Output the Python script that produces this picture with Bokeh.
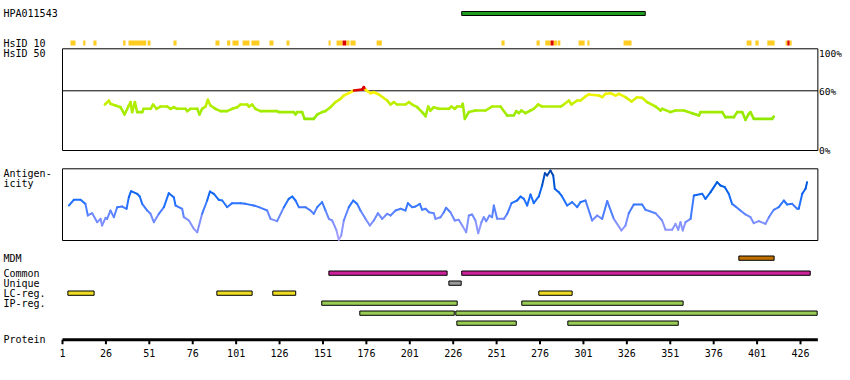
from bokeh.plotting import figure
from bokeh.models import Range1d, Label
from bokeh.embed import file_html
from bokeh.resources import INLINE

# ---------------- data ----------------
protein_length = 436
protein_ticks = [1, 26, 51, 76, 101, 126, 151, 176, 201, 226, 251, 276, 301, 326, 351, 376, 401, 426]
antibody_name = "HPA011543"
antigen_start = [230.9]
antigen_end = [336.6]

hsid10_start = [5.6, 12.9, 18.8, 35.9, 39.0, 50.0, 64.9, 89.1, 95.8, 98.9, 104.7, 109.8, 120.2, 130.0,
                154.2, 158.8, 162.3, 164.5, 166.9, 181.9, 253.8, 274.0, 279.0, 282.1, 283.9, 286.1,
                298.2, 303.3, 324.1, 395.0, 400.0, 406.9, 417.4, 418.4, 419.8]
hsid10_end = [8.5, 14.2, 20.6, 37.3, 49.2, 51.7, 66.7, 91.4, 97.6, 102.4, 108.7, 114.4, 122.5, 131.7,
              155.4, 162.3, 164.5, 166.3, 169.8, 184.9, 255.6, 275.8, 282.1, 283.9, 285.7, 287.7,
              301.7, 304.5, 328.7, 397.8, 401.9, 411.1, 418.4, 419.8, 420.9]
hsid10_level = ["low", "low", "low", "low", "low", "low", "low", "low", "low", "low", "low", "low",
                "low", "low", "low", "low", "high", "low", "low", "low", "low", "low", "low", "high",
                "low", "low", "low", "low", "low", "low", "low", "low", "low", "high", "low"]

hsid50_res = [25.4, 27.7, 28.6, 31.5, 34.4, 36.7, 39.2, 40.2, 41.1, 42.7,
              44.0, 46.9, 47.8, 51.7, 53.2, 55.1, 57.4, 61.3, 63.2, 65.1,
              67.0, 71.8, 72.8, 74.7, 78.6, 79.9, 81.4, 83.4, 84.7, 86.2,
              89.1, 92.0, 95.8, 98.7, 101.6, 103.5, 107.4, 108.3, 110.2, 112.1,
              115.0, 124.6, 125.6, 134.2, 135.2, 136.1, 139.0, 140.4, 145.7, 147.7,
              150.5, 152.5, 155.3, 158.2, 161.1, 163.0, 165.9, 168.8, 173.6, 174.5,
              175.5, 178.4, 180.3, 183.2, 188.0, 189.9, 191.8, 193.7, 198.5, 200.5,
              202.4, 205.3, 208.1, 210.1,
              211.6, 212.9, 214.8, 217.7, 223.5, 225.0, 226.9, 228.3, 230.8, 231.5,
              232.7, 235.0, 238.8, 244.6, 248.4, 253.2, 257.1, 260.9, 262.3, 263.8,
              265.3, 267.6, 270.5, 272.4, 274.9, 277.2, 287.8, 289.7, 292.6, 294.1,
              297.4, 299.3, 302.2, 304.1, 309.9, 311.8, 313.7, 316.6, 319.5, 321.4,
              325.2, 328.7, 331.9, 334.8, 337.7, 342.5, 345.4, 346.3, 351.1, 354.0,
              358.8, 363.6, 367.5, 368.4, 380.9, 382.8, 387.6, 389.5, 392.4, 394.3,
              396.2, 397.2, 399.1, 409.7, 410.6]
hsid50_pct = [46.2, 50.2, 46.9, 45.2, 43.5, 36.2, 45.2, 48.6, 38.6, 48.6,
              38.6, 38.6, 41.9, 41.9, 46.2, 41.9, 44.2, 44.2, 41.9, 43.5,
              41.9, 41.9, 39.6, 41.9, 41.9, 36.2, 41.9, 44.2, 50.9, 45.2,
              41.9, 39.6, 39.6, 41.9, 43.5, 46.2, 46.2, 44.2, 46.2, 41.9,
              39.6, 39.6, 38.6, 38.6, 36.2, 38.6, 38.6, 31.8, 31.8, 36.2,
              38.6, 39.6, 43.5, 48.6, 51.9, 55.3, 57.6, 60.3, 61.3, 63.7,
              61.0, 57.6, 58.6, 56.3, 50.2, 46.2, 48.6, 46.2, 46.2, 48.6,
              46.2, 43.5, 38.6, 34.5,
              44.2, 40.2, 43.5, 41.9, 41.9, 44.2, 41.9, 44.2, 44.2, 46.9,
              31.8, 38.6, 40.2, 40.2, 44.2, 44.2, 35.2, 35.2, 39.6, 37.5,
              40.2, 37.5, 40.2, 41.9, 46.2, 44.2, 44.2, 46.2, 50.2, 46.2,
              50.2, 50.2, 54.3, 56.3, 55.3, 53.6, 56.9, 57.6, 55.3, 56.9,
              53.6, 49.2, 53.6, 52.9, 48.6, 44.2, 40.2, 41.9, 38.6, 40.2,
              40.2, 37.5, 35.2, 38.6, 38.6, 33.5, 33.5, 38.6, 38.6, 30.8,
              36.9, 38.6, 31.8, 31.8, 34.2]

antigenicity_res = [4.7, 7.5, 11.4, 14.2, 15.6, 18.1, 21.0, 22.9, 23.8, 25.8,
                    26.7, 28.6, 30.6, 32.5, 35.4, 37.9, 39.2, 40.5, 44.0, 45.5,
                    46.9, 49.8, 51.7, 53.6, 56.5, 59.4, 62.2, 65.1, 66.1, 69.9,
                    70.9, 73.8, 76.6, 78.6, 81.4, 84.3, 85.9, 88.2, 91.0, 93.0,
                    95.8, 98.7, 103.5, 106.4, 111.2, 114.1, 118.9, 120.8, 124.6, 128.5,
                    131.3, 133.3, 135.2, 137.1, 140.9, 143.8, 145.7, 147.7, 150.5, 152.5,
                    154.4, 156.3, 158.8, 160.1, 161.5, 163.0, 165.9, 168.4, 170.7, 172.6,
                    175.5, 178.0, 180.3, 182.6, 185.1, 188.0, 189.9, 192.8, 195.7, 198.5,
                    199.9, 202.4, 204.3, 206.8, 208.1, 210.1,
                    212.0, 214.8, 215.8, 218.7, 220.6, 221.9, 224.4, 226.9, 229.2, 231.2,
                    233.5, 235.0, 236.9, 238.8, 240.4, 242.3, 243.6, 245.0, 246.9, 248.4,
                    249.4, 251.3, 255.2, 257.1, 259.6, 262.8, 264.8, 266.7, 268.6, 270.5,
                    272.4, 275.3, 277.2, 278.8, 280.1, 282.0, 283.6, 284.5, 286.8, 288.7,
                    291.6, 294.5, 297.4, 299.3, 302.2, 306.0, 308.9, 311.8, 314.7, 318.5,
                    322.9, 325.2, 327.1, 330.0, 334.8, 336.7, 342.5, 346.3, 348.3, 352.1,
                    354.0, 355.6, 356.9, 358.2, 359.8, 362.7, 364.6, 369.4, 371.3, 374.2,
                    378.0, 379.9, 382.4, 384.7, 386.6, 388.6, 391.4, 394.3, 397.2, 399.1,
                    402.0, 405.8, 407.8, 410.6, 413.5, 416.4, 418.3, 421.2, 424.1, 425.0,
                    427.0, 428.9, 429.8]
antigenicity_score = [48.8, 56.7, 56.7, 51.1, 34.9, 38.1, 25.6, 30.2, 20.9, 31.6,
                      30.2, 41.8, 32.5, 46.5, 47.4, 44.2, 60.4, 68.8, 65.1, 61.4,
                      51.1, 41.8, 37.2, 25.6, 37.2, 46.5, 66.0, 60.4, 48.8, 44.2,
                      32.5, 27.9, 16.3, 11.6, 37.2, 55.8, 68.3, 65.1, 56.7, 55.8,
                      46.5, 52.1, 52.1, 51.1, 48.8, 46.5, 41.8, 30.2, 27.0, 46.5,
                      58.1, 61.4, 55.8, 46.5, 46.5, 41.8, 37.2, 46.5, 53.5, 41.8,
                      30.2, 27.9, 14.0, 1.0, 7.0, 27.9, 46.5, 55.8, 51.1, 41.8,
                      30.2, 20.9, 27.9, 38.1, 30.2, 37.2, 34.9, 41.8, 44.2, 41.8,
                      52.1, 46.5, 47.4, 51.1, 42.8, 44.2,
                      39.5, 38.1, 30.2, 32.5, 39.5, 45.6, 39.5, 27.9, 28.8, 20.9,
                      11.6, 34.9, 36.3, 27.9, 10.2, 25.6, 32.5, 27.0, 34.9, 32.5,
                      48.8, 30.2, 30.2, 37.2, 52.1, 55.8, 61.4, 58.1, 48.8, 64.2,
                      52.1, 61.4, 76.7, 93.9, 90.7, 97.6, 90.7, 72.1, 67.4, 61.4,
                      48.8, 53.5, 46.5, 53.5, 55.8, 27.9, 34.9, 30.2, 54.9, 30.2,
                      14.0, 20.9, 38.1, 50.2, 50.2, 42.8, 38.1, 27.9, 14.9, 14.9,
                      23.2, 14.9, 25.6, 14.0, 25.6, 30.2, 62.8, 65.1, 58.1, 67.4,
                      81.4, 76.7, 74.4, 65.1, 51.1, 47.4, 41.8, 36.3, 32.5, 24.2,
                      27.0, 23.2, 32.5, 42.8, 46.5, 55.8, 50.2, 51.1, 44.2, 44.2,
                      65.1, 72.1, 81.4]

mdm_start = [390.5]
mdm_end = [410.8]
common_start = [154.4, 230.9]
common_end = [222.5, 431.6]
unique_start = [223.5]
unique_end = [230.6]
lc_start = [4.1, 89.9, 122.1, 275.3]
lc_end = [19.2, 110.2, 135.3, 294.5]
ip_start = [150.3, 265.5, 172.2, 227.5, 228.1, 292.0]
ip_end = [228.3, 358.4, 226.6, 435.6, 262.3, 355.6]
ip_row = [0, 0, 1, 1, 2, 2]

# ---------------- layout (pixel coordinates of the picture) ----------------
W, H = 842, 372
K = 738.0 / 425.0          # px per residue
X_RES1 = 62.0              # pixel of residue 1
AXIS_Y = 339.3             # protein axis line
HS_ZERO, HS_SCALE = 150.0, 0.995   # HsID panel: 0% pixel, px per %
AG_ZERO, AG_SCALE = 240.0, 0.717   # antigenicity panel: 0 pixel, px per unit
FONT = "DejaVu Sans Mono"
FS = "10px"

x_range = Range1d(1 - X_RES1 / K, 1 + (W - X_RES1) / K)
y_range = Range1d(H, 0)

p = figure(width=W, height=H, x_range=x_range, y_range=y_range,
           output_backend="svg", toolbar_location=None, tools="",
           x_axis_location=None, y_axis_location=None, min_border=0)
p.outline_line_color = None
p.xgrid.visible = False
p.ygrid.visible = False
p.extra_y_ranges = {
    "hsid": Range1d((HS_ZERO - H) / HS_SCALE, HS_ZERO / HS_SCALE),
    "antig": Range1d((AG_ZERO - H) / AG_SCALE, AG_ZERO / AG_SCALE),
}
p.extra_x_ranges = {"px": Range1d(0, W)}


def lerp_color(v, stops):
    if v <= stops[0][0]:
        c = stops[0][1]
    elif v >= stops[-1][0]:
        c = stops[-1][1]
    else:
        for (a, ca), (b, cb) in zip(stops[:-1], stops[1:]):
            if a <= v <= b:
                t = (v - a) / (b - a)
                c = tuple(ca[i] + (cb[i] - ca[i]) * t for i in range(3))
                break
    return "#%02x%02x%02x" % tuple(int(round(x)) for x in c)


HS_STOPS = [(30, (136, 232, 0)), (45, (178, 238, 0)), (59, (255, 245, 0))]
AG_STOPS = [(0, (175, 165, 255)), (35, (105, 135, 255)), (55, (30, 112, 255)),
            (75, (0, 92, 228)), (100, (0, 62, 160))]


def hs_color(v):
    return "#dd0000" if v > 60 else lerp_color(v, HS_STOPS)


# --- antibody antigen bar
p.quad(left=antigen_start, right=antigen_end, top=[11.0], bottom=[15.0],
       fill_color="#1e9e1e", line_color="black", line_width=1)

# --- HsID 10 bars
hs10_colors = ["#dd0000" if lv == "high" else "#ffcc22" for lv in hsid10_level]
p.quad(left=hsid10_start, right=hsid10_end, top=[40.0] * len(hsid10_start),
       bottom=[45.0] * len(hsid10_start), fill_color=hs10_colors, line_color=None)

# --- HsID 50 panel
p.quad(left=[1], right=[protein_length], bottom=[0], top=[(HS_ZERO - 48.3) / HS_SCALE],
       y_range_name="hsid", fill_color=None, line_color="black", line_width=1)
p.line(x=[1, protein_length], y=[60, 60], y_range_name="hsid", line_color="black", line_width=1)
hs_cols = [hs_color((a + b) / 2) for a, b in zip(hsid50_pct[:-1], hsid50_pct[1:])]
p.segment(x0=hsid50_res[:-1], y0=hsid50_pct[:-1], x1=hsid50_res[1:], y1=hsid50_pct[1:],
          y_range_name="hsid", line_color=hs_cols, line_width=2.6, line_cap="round")

# --- antigenicity panel
p.quad(left=[1], right=[protein_length], bottom=[0], top=[100],
       y_range_name="antig", fill_color=None, line_color="black", line_width=1)
ag_cols = [lerp_color((a + b) / 2, AG_STOPS) for a, b in zip(antigenicity_score[:-1], antigenicity_score[1:])]
p.segment(x0=antigenicity_res[:-1], y0=antigenicity_score[:-1], x1=antigenicity_res[1:],
          y1=antigenicity_score[1:], y_range_name="antig", line_color=ag_cols,
          line_width=2, line_cap="round")

# --- feature tracks
ROW_Y = {"mdm": 255.0, "common": 270.0, "unique": 280.0, "lc": 290.0, "ip": 300.0}
ROW_STEP = 10.0
BAR_H = 4.3


def track(starts, ends, ys, color):
    p.quad(left=starts, right=ends, top=[y + 0.5 for y in ys], bottom=[y + 0.5 + BAR_H for y in ys],
           fill_color=color, line_color="black", line_width=1)


track(mdm_start, mdm_end, [ROW_Y["mdm"]] * len(mdm_start), "#c07000")
track(common_start, common_end, [ROW_Y["common"]] * len(common_start), "#cc2299")
track(unique_start, unique_end, [ROW_Y["unique"]] * len(unique_start), "#999999")
track(lc_start, lc_end, [ROW_Y["lc"]] * len(lc_start), "#eedd22")
track(ip_start, ip_end, [ROW_Y["ip"] + r * ROW_STEP for r in ip_row], "#99cc55")

# --- protein axis (drawn through the residue scale)
p.line(x=[1, protein_length], y=[AXIS_Y, AXIS_Y], line_color="black", line_width=3)
p.segment(x0=protein_ticks, x1=protein_ticks, y0=[AXIS_Y] * len(protein_ticks),
          y1=[AXIS_Y + 4.5] * len(protein_ticks), line_color="black", line_width=2)
p.text(x=protein_ticks, y=[352.5] * len(protein_ticks), text=[str(t) for t in protein_ticks],
       text_align="center", text_baseline="middle", text_font={"value": FONT},
       text_font_size={"value": FS}, text_color="black")

# --- labels
left_labels = [(antibody_name, 13), ("HsID 10", 42.5), ("HsID 50", 52.7), ("Antigen-", 172.7),
               ("icity", 183), ("MDM", 258), ("Common", 272.7), ("Unique", 282.7),
               ("LC-reg.", 292.7), ("IP-reg.", 302.7), ("Protein", 339)]
for txt, yy in left_labels:
    p.add_layout(Label(x=3, y=yy, x_range_name="px", text=txt, text_font=FONT,
                       text_font_size=FS, text_baseline="middle", text_align="left",
                       text_color="black"))
for txt, yy in [("100%", 52.5), ("60%", 91), ("0%", 150)]:
    p.add_layout(Label(x=818.5, y=yy, x_range_name="px", text=txt, text_font=FONT,
                       text_font_size="9.5px", text_baseline="middle", text_align="left",
                       text_color="black"))

open("out.html", "w").write(file_html(p, INLINE))
